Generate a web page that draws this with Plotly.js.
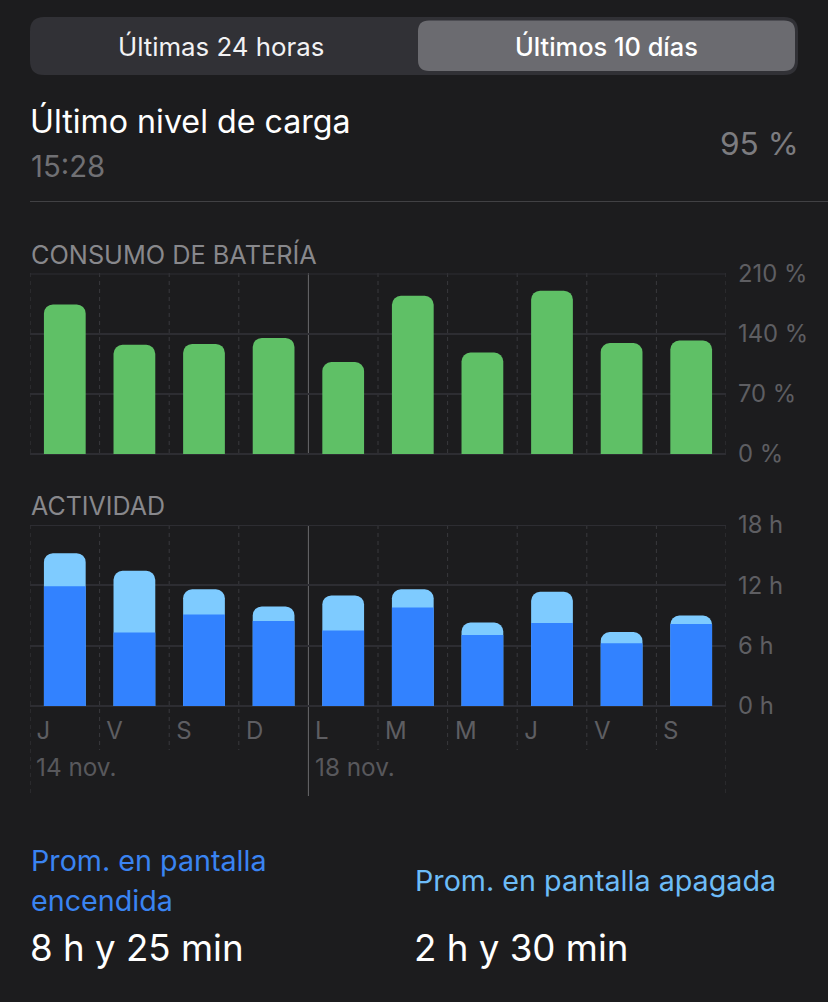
<!DOCTYPE html>
<html><head><meta charset="utf-8">
<script src="https://cdn.plot.ly/plotly-3.0.1.min.js"></script>
<style>html,body{margin:0;padding:0;background:#1c1c1e;overflow:hidden}</style>
</head><body><div id="chart" style="width:828px;height:1002px"></div>
<script>
const days = ['J','V','S','D','L','M','M','J','V','S'];
const dayPos = [0,1,2,3,4,5,6,7,8,9];
const dayLabelPos = [-0.405,0.595,1.6,2.605,3.595,4.6,5.605,6.6,7.605,8.595];
const battery = [174,127,128,135,107,184,118,190,129,132];
const screenOn = [11.9,7.3,9.1,8.45,7.5,9.8,7.05,8.25,6.25,8.15];
const totalActivity = [15.2,13.45,11.6,9.9,11.0,11.6,8.3,11.35,7.35,9.0];
const batteryTicks = [0,70,140,210];
const batteryLabels = ['0 %','70 %','140 %','210 %'];
const hourTicks = [0,6,12,18];
const hourLabels = ['0 h','6 h','12 h','18 h'];

const W=828,H=1002;
const px=x=>x/W, py=y=>1-y/H;
const FONT='Inter, "Noto Sans", sans-serif';
const GRID='#2d2d32', DASH='#39393d', SOLID='#68686c', TICK='#5e5e62';

function text(x,y,t,size,color,anchor,weight){
  return {xref:'paper',yref:'paper',x:px(x),y:py(y),text:t,showarrow:false,
    xanchor:anchor||'left',yanchor:'middle',font:{family:FONT,size:size,color:color,weight:weight||400},borderpad:0,borderwidth:0};
}
function rr(x0,y0,x1,y1,r){
  const X0=px(x0),X1=px(x1),Y0=py(y0),Y1=py(y1),rx=r/W,ry=r/H;
  return `M${X0+rx},${Y0} L${X1-rx},${Y0} Q${X1},${Y0} ${X1},${Y0-ry} L${X1},${Y1+ry} Q${X1},${Y1} ${X1-rx},${Y1} L${X0+rx},${Y1} Q${X0},${Y1} ${X0},${Y1+ry} L${X0},${Y0-ry} Q${X0},${Y0} ${X0+rx},${Y0} Z`;
}
const boundaries=[-0.5,0.5,1.5,2.5,3.5,4.5,5.5,6.5,7.5,8.5,9.5];
const shapes=[
  {type:'path',xref:'paper',yref:'paper',path:rr(30,17,798,75,14),fillcolor:'#313136',line:{width:0},layer:'below'},
  {type:'path',xref:'paper',yref:'paper',path:rr(418,20.5,795,71,11),fillcolor:'#6b6b70',line:{width:0},layer:'below'},
  {type:'line',xref:'paper',yref:'paper',x0:px(30),x1:1,y0:py(201.5),y1:py(201.5),line:{color:'#414144',width:1},layer:'below'},
  {type:'line',xref:'x',yref:'y',x0:-0.5,x1:9.5,y0:210,y1:210,line:{color:GRID,width:2},layer:'below'},
  {type:'line',xref:'x2',yref:'y2',x0:-0.5,x1:9.5,y0:18,y1:18,line:{color:GRID,width:2},layer:'below'}
];
boundaries.forEach(b=>{
  const solid=b===3.5, edge=b===-0.5||b===9.5;
  const line=solid?{color:SOLID,width:1}:{color:DASH,width:1,dash:'4px,4px'};
  shapes.push({type:'line',xref:'x',yref:'paper',x0:b,x1:b,y0:py(273),y1:py(454),line:line,layer:'below'});
  shapes.push({type:'line',xref:'x2',yref:'paper',x0:b,x1:b,y0:py(525),y1:py((solid||edge)?796:750),line:line,layer:'below'});
});

const traces=[
 {type:'bar',x:dayPos,y:battery,width:0.6,marker:{color:'#5fc066',line:{width:0}},xaxis:'x',yaxis:'y',hoverinfo:'skip'},
 {type:'bar',x:dayPos,y:totalActivity,width:0.6,marker:{color:'#7ecbff',line:{width:0}},xaxis:'x2',yaxis:'y2',hoverinfo:'skip'},
 {type:'bar',x:dayPos,y:screenOn,width:0.6,marker:{color:'#3282ff',line:{width:0}},xaxis:'x2',yaxis:'y2',hoverinfo:'skip'}
];
const yBase={side:'right',showgrid:true,gridcolor:GRID,gridwidth:2,zeroline:true,zerolinecolor:GRID,zerolinewidth:2,
  ticks:'',ticklabelstandoff:11,tickfont:{family:FONT,size:23.8,color:TICK},showline:false,fixedrange:true};
const xBase={range:[-0.5,9.5],domain:[px(30),px(726)],showgrid:false,zeroline:false,showline:false,fixedrange:true};
const layout={
  width:W,height:H,margin:{l:0,r:0,t:0,b:0,pad:0},paper_bgcolor:'#1c1c1e',plot_bgcolor:'rgba(0,0,0,0)',
  showlegend:false,barmode:'overlay',barcornerradius:9,shapes:shapes,
  xaxis:Object.assign({},xBase,{anchor:'y',showticklabels:false,ticks:''}),
  yaxis:Object.assign({},yBase,{anchor:'x',domain:[py(454),py(273.5)],range:[0,210],tickmode:'array',tickvals:batteryTicks,ticktext:batteryLabels}),
  xaxis2:Object.assign({},xBase,{anchor:'y2',tickmode:'array',tickvals:dayLabelPos,ticktext:days,ticks:'',
     ticklabelposition:'outside right',ticklabelstandoff:8,tickangle:0,tickfont:{family:FONT,size:24,color:TICK}}),
  yaxis2:Object.assign({},yBase,{anchor:'x2',domain:[py(706),py(525)],range:[0,18],tickmode:'array',tickvals:hourTicks,ticktext:hourLabels}),
  annotations:[
    text(221,46.5,'Últimas 24 horas',25.8,'#f2f2f4','center'),
    text(606.5,46.5,'Últimos 10 días',25.4,'#ffffff','center',500),
    text(30,121.5,'Último nivel de carga',32.2,'#ffffff'),
    text(31,167,'15:28',29.3,'#707074'),
    text(799,143,'95 %',31.6,'#7c7c80','right'),
    text(31,254,'CONSUMO DE BATERÍA',25.3,'#88888c'),
    text(31,506,'ACTIVIDAD',25,'#88888c'),
    text(36,767,'14 nov.',24.3,'#58585c'),
    text(315,767,'18 nov.',24.3,'#58585c'),
    text(31,860,'Prom. en pantalla',28.7,'#3a84f2'),
    text(31,900,'encendida',28.7,'#3a84f2'),
    text(415,880,'Prom. en pantalla apagada',28.7,'#6dbcf8'),
    text(30,947,'8 h y 25 min',36.7,'#ffffff'),
    text(414,947,'2 h y 30 min',36.7,'#ffffff')
  ]
};
Plotly.newPlot('chart',traces,layout,{displayModeBar:false,staticPlot:true});
</script></body></html>
